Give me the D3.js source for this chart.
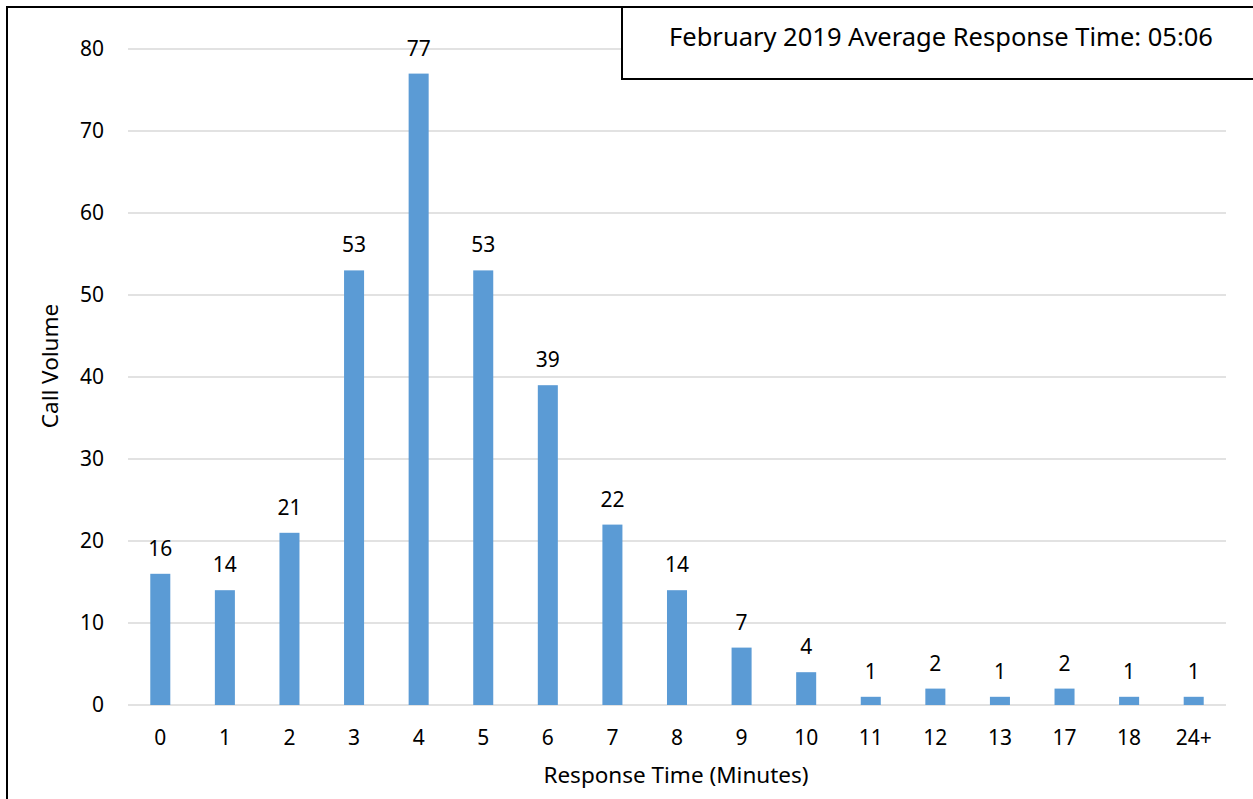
<!DOCTYPE html>
<html>
<head>
<meta charset="utf-8">
<script src="https://cdn.jsdelivr.net/npm/d3@7"></script>
<style>
  body { margin: 0; background: #fff; }
  text { font-family: "Noto Sans", "Open Sans", sans-serif; fill: #000; }
</style>
</head>
<body>
<svg id="viz"></svg>
<script>
// chart data
var categories = ['0', '1', '2', '3', '4', '5', '6', '7', '8', '9', '10', '11', '12', '13', '17', '18', '24+'];
var callVolume = [16, 14, 21, 53, 77, 53, 39, 22, 14, 7, 4, 1, 2, 1, 2, 1, 1];
var yTicks = [0, 10, 20, 30, 40, 50, 60, 70, 80];
var titleText = 'February 2019 Average Response Time: 05:06';

var width = 1253;
var height = 799;

var margin = { top: 49, right: 27, bottom: 94, left: 128 };
var drawWidth = width - margin.left - margin.right;
var drawHeight = height - margin.top - margin.bottom;

var svg = d3.select('#viz')
            .attr('width', width)
            .attr('height', height);

// outer chart border (only left and top visible in the frame)
svg.append('path')
   .attr('d', 'M7,799 L7,7 L1253,7')
   .attr('fill', 'none')
   .attr('stroke', '#000')
   .attr('stroke-width', 2);

var g = svg.append('g')
           .attr('transform', `translate(${margin.left}, ${margin.top})`);

var xScale = d3.scaleBand()
               .range([0, drawWidth])
               .domain(categories)
               .paddingInner(0.69)
               .paddingOuter(0.345);

var yScale = d3.scaleLinear()
               .range([drawHeight, 0])
               .domain([0, 80]);

// gridlines
g.selectAll('.grid')
 .data(yTicks)
 .enter()
 .append('line')
 .attr('x1', 0)
 .attr('x2', drawWidth)
 .attr('y1', d => yScale(d))
 .attr('y2', d => yScale(d))
 .attr('stroke', '#d9d9d9')
 .attr('stroke-width', 1.3);

// y axis labels
var yAxis = d3.axisLeft(yScale)
              .tickValues(yTicks)
              .tickSize(0)
              .tickPadding(24);
var yG = g.append('g').call(yAxis);
yG.select('.domain').remove();
yG.attr('font-size', null).attr('font-family', null);
yG.selectAll('text').style('font-size', '21px').attr('fill', '#000');

// x axis labels
var xAxis = d3.axisBottom(xScale)
              .tickSize(0)
              .tickPadding(25);
var xG = g.append('g')
          .attr('transform', `translate(0, ${drawHeight})`)
          .call(xAxis);
xG.select('.domain').remove();
xG.attr('font-size', null).attr('font-family', null);
xG.selectAll('text').style('font-size', '21px').attr('fill', '#000');

// bars
var rows = categories.map((c, i) => ({ cat: c, value: callVolume[i] }));

g.selectAll('rect.bar')
 .data(rows)
 .enter()
 .append('rect')
 .attr('class', 'bar')
 .attr('x', d => xScale(d.cat))
 .attr('width', xScale.bandwidth())
 .attr('y', d => yScale(d.value))
 .attr('height', d => drawHeight - yScale(d.value))
 .attr('fill', '#5b9bd5');

// data labels
g.selectAll('text.lbl')
 .data(rows)
 .enter()
 .append('text')
 .attr('class', 'lbl')
 .attr('x', d => xScale(d.cat) + xScale.bandwidth() / 2)
 .attr('y', d => yScale(d.value) - 18)
 .attr('text-anchor', 'middle')
 .style('font-size', '21px')
 .text(d => d.value);

// axis titles
svg.append('text')
   .attr('transform', 'translate(58, 366) rotate(-90)')
   .attr('text-anchor', 'middle')
   .style('font-size', '22.5px')
   .text('Call Volume');

svg.append('text')
   .attr('x', 676)
   .attr('y', 783)
   .attr('text-anchor', 'middle')
   .style('font-size', '22.5px')
   .text('Response Time (Minutes)');

// title box
svg.append('rect')
   .attr('x', 622)
   .attr('y', 7)
   .attr('width', 640)
   .attr('height', 72)
   .attr('fill', '#fff')
   .attr('stroke', '#000')
   .attr('stroke-width', 2);

svg.append('text')
   .attr('x', 941)
   .attr('y', 46)
   .attr('text-anchor', 'middle')
   .style('font-size', '25.5px')
   .text(titleText);
</script>
</body>
</html>
